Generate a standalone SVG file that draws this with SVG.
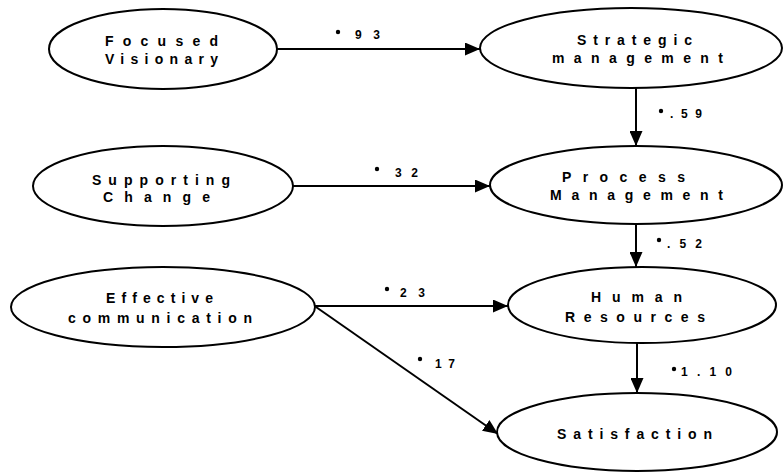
<svg xmlns="http://www.w3.org/2000/svg" width="783" height="473" viewBox="0 0 783 473">
  <style>
    .node ellipse { fill: #ffffff; stroke: #000000; stroke-width: 2; }
    .node text { font-family: "Liberation Sans", Arial, sans-serif; font-weight: bold; font-size: 14px; fill: #000000; }
    .edge { stroke: #000000; stroke-width: 2; fill: none; marker-end: url(#arrow); }
    .lbl { font-family: "Liberation Sans", Arial, sans-serif; font-weight: bold; font-size: 12px; fill: #000000; }
  </style>
  <defs>
    <marker id="arrow" markerUnits="userSpaceOnUse" markerWidth="15" markerHeight="13" refX="15" refY="6.5" orient="auto">
      <path d="M0,0 L15,6.5 L0,13 z" fill="#000000"/>
    </marker>
  </defs>
  <rect width="783" height="473" fill="#ffffff"/>

  <!-- path connectors with coefficients -->
  <g id="connectors">
    <line class="edge" x1="277" y1="49" x2="480" y2="49"/>
    <line class="edge" x1="293" y1="186" x2="490" y2="186"/>
    <line class="edge" x1="636" y1="88" x2="636" y2="146"/>
    <line class="edge" x1="636" y1="223" x2="636" y2="267"/>
    <line class="edge" x1="315" y1="306" x2="508" y2="306"/>
    <line class="edge" x1="316" y1="307" x2="498" y2="434"/>
    <line class="edge" x1="637" y1="343" x2="637" y2="393"/>

    <circle cx="338" cy="32" r="2.2"/>
    <text class="lbl" x="355" y="39" textLength="25" lengthAdjust="spacing">93</text>
    <circle cx="377" cy="169" r="2.2"/>
    <text class="lbl" x="395" y="177" textLength="23" lengthAdjust="spacing">32</text>
    <circle cx="661" cy="111" r="2.2"/>
    <text class="lbl" x="670" y="118" textLength="32" lengthAdjust="spacing">.59</text>
    <circle cx="659" cy="240" r="2.2"/>
    <text class="lbl" x="667" y="248" textLength="35" lengthAdjust="spacing">.52</text>
    <circle cx="387" cy="289" r="2.2"/>
    <text class="lbl" x="400" y="297" textLength="25" lengthAdjust="spacing">23</text>
    <circle cx="420" cy="359" r="2.2"/>
    <text class="lbl" x="435" y="368" textLength="20" lengthAdjust="spacing">17</text>
    <circle cx="674" cy="369" r="2.2"/>
    <text class="lbl" x="681" y="376" textLength="51" lengthAdjust="spacing">1.10</text>
  </g>

  <g id="focused-visionary" class="node">
    <ellipse cx="163" cy="49" rx="114" ry="40"/>
    <text x="105" y="46" textLength="113" lengthAdjust="spacing">Focused</text>
    <text x="105" y="64" textLength="113" lengthAdjust="spacing">Visionary</text>
  </g>

  <g id="supporting-change" class="node">
    <ellipse cx="163" cy="186" rx="130" ry="40"/>
    <text x="92" y="185" textLength="138" lengthAdjust="spacing">Supporting</text>
    <text x="103" y="202" textLength="107" lengthAdjust="spacing">Change</text>
  </g>

  <g id="effective-communication" class="node">
    <ellipse cx="163" cy="307" rx="152" ry="40"/>
    <text x="106" y="303" textLength="107" lengthAdjust="spacing">Effective</text>
    <text x="68" y="323" textLength="184" lengthAdjust="spacing">communication</text>
  </g>

  <g id="strategic-management" class="node">
    <ellipse cx="631" cy="48" rx="151" ry="40"/>
    <text x="577" y="45" textLength="115" lengthAdjust="spacing">Strategic</text>
    <text x="552" y="63" textLength="171" lengthAdjust="spacing">management</text>
  </g>

  <g id="process-management" class="node">
    <ellipse cx="636" cy="185" rx="146" ry="39"/>
    <text x="562" y="182" textLength="123" lengthAdjust="spacing">Process</text>
    <text x="550" y="200" textLength="173" lengthAdjust="spacing">Management</text>
  </g>

  <g id="human-resources" class="node">
    <ellipse cx="642" cy="305" rx="134" ry="38"/>
    <text x="591" y="302" textLength="91" lengthAdjust="spacing">Human</text>
    <text x="565" y="322" textLength="140" lengthAdjust="spacing">Resources</text>
  </g>

  <g id="satisfaction" class="node">
    <ellipse cx="637" cy="432" rx="140" ry="39"/>
    <text x="557" y="439" textLength="155" lengthAdjust="spacing">Satisfaction</text>
  </g>
</svg>
